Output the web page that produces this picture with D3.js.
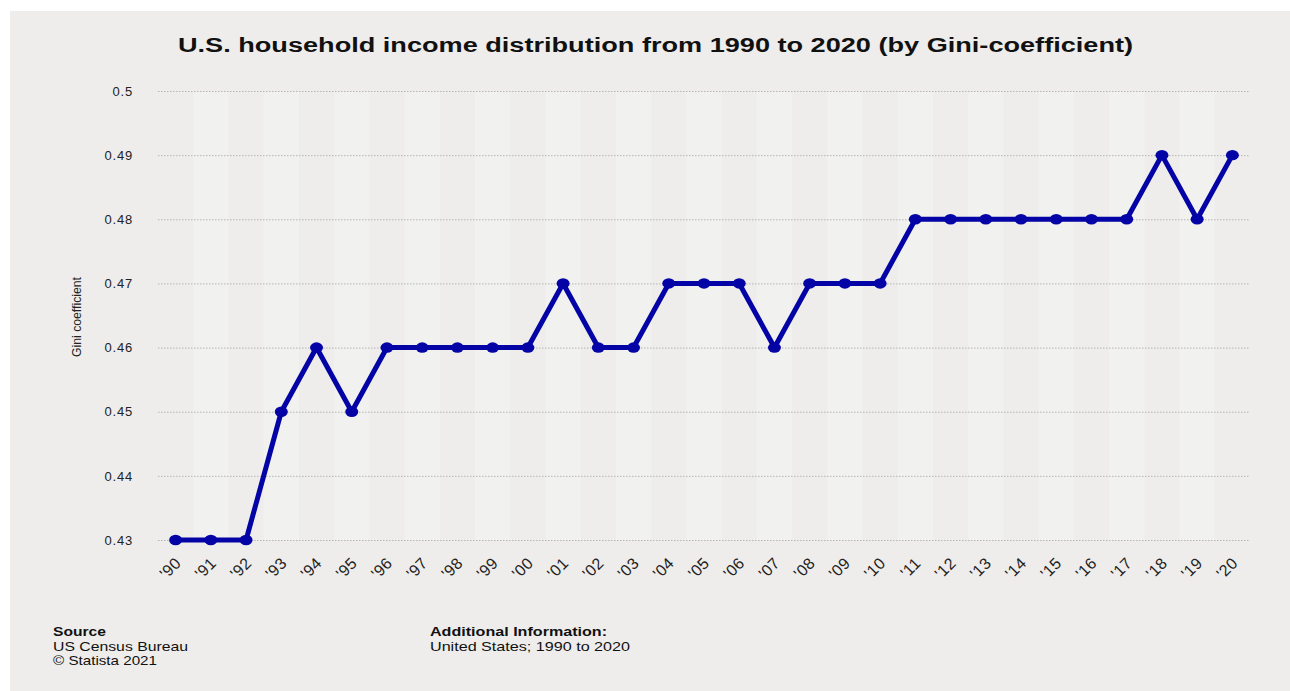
<!DOCTYPE html>
<html>
<head>
<meta charset="utf-8">
<script src="https://cdn.jsdelivr.net/npm/d3@7"></script>
<style>
  html, body { margin: 0; padding: 0; background: #fff; }
  svg { display: block; font-family: "Liberation Sans", Arial, sans-serif; }
</style>
</head>
<body>
<div id="chart"></div>
<script>
// ----- DATA ---------------------------------------//
var years = ["'90", "'91", "'92", "'93", "'94", "'95", "'96", "'97", "'98", "'99",
             "'00", "'01", "'02", "'03", "'04", "'05", "'06", "'07", "'08", "'09",
             "'10", "'11", "'12", "'13", "'14", "'15", "'16", "'17", "'18", "'19", "'20"];
var gini = [0.43, 0.43, 0.43, 0.45, 0.46, 0.45, 0.46, 0.46, 0.46, 0.46,
            0.46, 0.47, 0.46, 0.46, 0.47, 0.47, 0.47, 0.46, 0.47, 0.47,
            0.47, 0.48, 0.48, 0.48, 0.48, 0.48, 0.48, 0.48, 0.49, 0.48, 0.49];
var yTicks = [0.43, 0.44, 0.45, 0.46, 0.47, 0.48, 0.49, 0.5];

// ----- SETTINGS -----------------------------------//
var WIDTH = 1290, HEIGHT = 691,
    PLOT_LEFT = 158, PLOT_RIGHT = 1250,
    PLOT_TOP = 91, PLOT_BOTTOM = 540,
    LINE_COLOR = '#0303a6';

var svg = d3.select('#chart').append('svg')
    .attr('width', WIDTH)
    .attr('height', HEIGHT);

// panel background
svg.append('rect')
    .attr('x', 10).attr('y', 11)
    .attr('width', WIDTH - 10).attr('height', HEIGHT - 11)
    .attr('fill', '#eeedeb');

var x = d3.scalePoint()
    .domain(years)
    .range([PLOT_LEFT, PLOT_RIGHT])
    .padding(0.5);

var y = d3.scaleLinear()
    .domain([0.43, 0.5])
    .range([PLOT_BOTTOM, PLOT_TOP]);

var step = x.step();

// alternating column bands (very subtle)
svg.append('g')
    .selectAll('rect')
    .data(years.filter(function (d, i) { return i % 2 === 1; }))
    .enter().append('rect')
    .attr('x', function (d) { return x(d) - step / 2; })
    .attr('y', PLOT_TOP)
    .attr('width', step)
    .attr('height', PLOT_BOTTOM - PLOT_TOP)
    .attr('fill', '#f1f1ef');

// ----- TITLE --------------------------------------//
svg.append('text')
    .attr('x', 178)
    .attr('y', 52)
    .attr('textLength', 955)
    .attr('lengthAdjust', 'spacingAndGlyphs')
    .attr('font-size', 20)
    .attr('font-weight', 'bold')
    .attr('fill', '#111')
    .text('U.S. household income distribution from 1990 to 2020 (by Gini-coefficient)');

// ----- Y AXIS -------------------------------------//
var yAxis = svg.append('g')
    .attr('transform', 'translate(' + PLOT_LEFT + ',0)')
    .call(d3.axisLeft(y)
        .tickValues(yTicks)
        .tickSize(-(PLOT_RIGHT - PLOT_LEFT))
        .tickPadding(25)
        .tickFormat(function (d) { return d3.format('~g')(d); }));

yAxis.select('.domain').remove();
yAxis.selectAll('.tick line')
    .attr('stroke', '#b5b4b0')
    .attr('stroke-dasharray', '1.5,1.5');
yAxis.selectAll('.tick text')
    .attr('font-size', 13)
    .attr('letter-spacing', '0.8px')
    .attr('fill', '#222')
    .attr('font-family', '"Liberation Sans", Arial, sans-serif');

svg.append('text')
    .attr('transform', 'translate(81,317) rotate(-90)')
    .attr('text-anchor', 'middle')
    .attr('font-size', 12)
    .attr('textLength', 80)
    .attr('lengthAdjust', 'spacingAndGlyphs')
    .attr('fill', '#222')
    .text('Gini coefficient');

// ----- X AXIS -------------------------------------//
var xAxis = svg.append('g')
    .attr('transform', 'translate(0,' + PLOT_BOTTOM + ')')
    .call(d3.axisBottom(x).tickSize(0).tickPadding(0));

xAxis.select('.domain').remove();
xAxis.selectAll('.tick text')
    .attr('font-size', 16)
    .attr('letter-spacing', '0.5px')
    .attr('fill', '#222')
    .attr('font-family', '"Liberation Sans", Arial, sans-serif')
    .attr('text-anchor', 'end')
    .attr('dy', null)
    .attr('transform', 'translate(6,24) rotate(-45)');

// ----- LINE ---------------------------------------//
var line = d3.line()
    .x(function (d, i) { return x(years[i]); })
    .y(function (d) { return y(d); });

svg.append('path')
    .datum(gini)
    .attr('fill', 'none')
    .attr('stroke', LINE_COLOR)
    .attr('stroke-width', 5)
    .attr('stroke-linejoin', 'round')
    .attr('d', line);

svg.append('g')
    .selectAll('ellipse')
    .data(gini)
    .enter().append('ellipse')
    .attr('cx', function (d, i) { return x(years[i]); })
    .attr('cy', function (d) { return y(d); })
    .attr('rx', 6.5)
    .attr('ry', 5.2)
    .attr('fill', LINE_COLOR);

// ----- FOOTER -------------------------------------//
var footer = svg.append('g')
    .attr('font-size', 13)
    .attr('fill', '#111');

var footerLines = [
    { x: 53, y: 636, w: 53, bold: true, t: 'Source' },
    { x: 53, y: 651, w: 135, bold: false, t: 'US Census Bureau' },
    { x: 53, y: 665, w: 104, bold: false, t: '\u00a9 Statista 2021' },
    { x: 430, y: 636, w: 177, bold: true, t: 'Additional Information:' },
    { x: 430, y: 651, w: 200, bold: false, t: 'United States; 1990 to 2020' }
];

footer.selectAll('text')
    .data(footerLines)
    .enter().append('text')
    .attr('x', function (d) { return d.x; })
    .attr('y', function (d) { return d.y; })
    .attr('textLength', function (d) { return d.w; })
    .attr('lengthAdjust', 'spacingAndGlyphs')
    .attr('font-weight', function (d) { return d.bold ? 600 : 'normal'; })
    .text(function (d) { return d.t; });
</script>
</body>
</html>
